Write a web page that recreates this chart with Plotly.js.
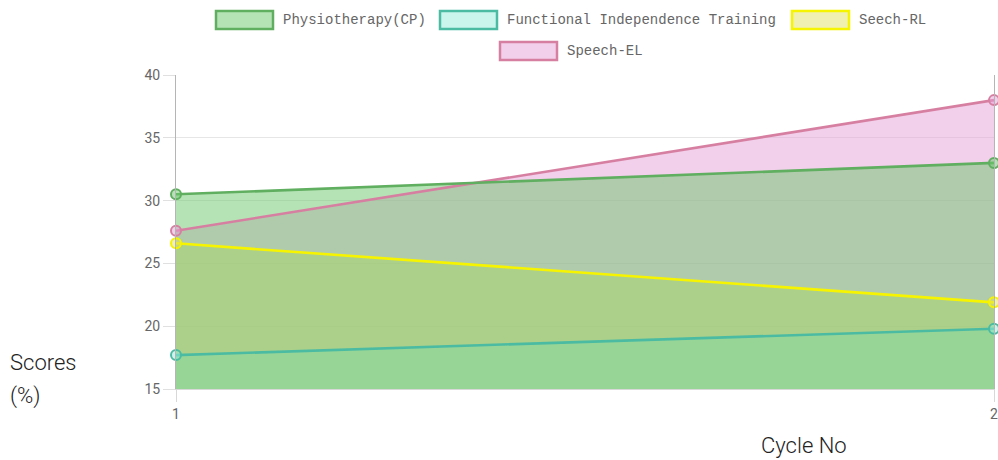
<!DOCTYPE html>
<html>
<head>
<meta charset="utf-8">
<script src="https://cdn.plot.ly/plotly-3.0.1.min.js"></script>
<style>html,body{margin:0;padding:0;background:#fff;}#chart{width:998px;height:460px;}</style>
</head>
<body>
<div id="chart"></div>
<script>
// ---- data ----
const cycles = [1, 2];
const seriesNames = ['Physiotherapy(CP)', 'Functional Independence Training', 'Seech-RL', 'Speech-EL'];
const physio = [30.5, 33.0];
const fit = [17.7, 19.8];
const seechRL = [26.6, 21.9];
const speechEL = [27.6, 38.0];
const yTicks = [15, 20, 25, 30, 35, 40];
const xTicks = [1, 2];

// ---- styles ----
const lineColors = ['#60ae60', '#4bbca2', '#f7f400', '#d77fa1'];
const fillColors = ['rgba(110,200,110,0.5)', 'rgba(150,235,220,0.5)', 'rgba(225,225,100,0.5)', 'rgba(230,160,215,0.5)'];
const seriesValues = [physio, fit, seechRL, speechEL];

// Chart.js-like: fills drawn first (last dataset at bottom), lines on top
const traces = [];
for (let i = seriesValues.length - 1; i >= 0; i--) {
  traces.push({
    x: cycles, y: seriesValues[i], type: 'scatter', mode: 'none',
    fill: 'tozeroy', fillcolor: fillColors[i], showlegend: false, hoverinfo: 'skip'
  });
}
for (let i = seriesValues.length - 1; i >= 0; i--) {
  traces.push({
    x: cycles, y: seriesValues[i], type: 'scatter', mode: 'lines+markers',
    name: seriesNames[i], showlegend: false, cliponaxis: false,
    line: {color: lineColors[i], width: 2.6},
    marker: {size: 10, color: fillColors[i], line: {color: lineColors[i], width: 2}}
  });
}

// ---- custom Chart.js style legend (paper coords computed from pixel layout) ----
const L = 176, R = 4, T = 75, B = 71, W = 998, H = 460;
const pw = W - L - R, ph = H - T - B;
const px = v => (v - L) / pw;
const py = v => (H - B - v) / ph;
const legendItems = [
  {box: 216, text: 282, y: 20},
  {box: 440, text: 506, y: 20},
  {box: 792, text: 858, y: 20},
  {box: 500, text: 566, y: 51}
];
const shapes = [];
const annotations = [];
legendItems.forEach((it, i) => {
  shapes.push({
    type: 'rect', xref: 'paper', yref: 'paper',
    x0: px(it.box), x1: px(it.box + 57), y0: py(it.y - 9), y1: py(it.y + 9),
    fillcolor: fillColors[i], line: {color: lineColors[i], width: 2.5}
  });
  annotations.push({
    xref: 'paper', yref: 'paper', x: px(it.text), y: py(it.y),
    xanchor: 'left', yanchor: 'middle', showarrow: false, borderpad: 0,
    text: seriesNames[i], font: {family: 'Liberation Mono, DejaVu Sans Mono, monospace', size: 14, color: '#666'}
  });
});
// axis titles placed like the reference
const titleFont = {family: 'Roboto', size: 22, color: '#222', weight: 300};
annotations.push({xref: 'paper', yref: 'paper', x: px(9), y: py(362), xanchor: 'left', yanchor: 'middle',
  showarrow: false, borderpad: 0, text: 'Scores', font: titleFont});
annotations.push({xref: 'paper', yref: 'paper', x: px(9), y: py(396), xanchor: 'left', yanchor: 'middle',
  showarrow: false, borderpad: 0, text: '(%)', font: titleFont});
annotations.push({xref: 'paper', yref: 'paper', x: px(804), y: py(445), xanchor: 'center', yanchor: 'middle',
  showarrow: false, borderpad: 0, text: 'Cycle No', font: titleFont});

const layout = {
  width: W, height: H,
  margin: {l: L, r: R, t: T, b: B, pad: 0},
  paper_bgcolor: '#fff', plot_bgcolor: '#fff',
  showlegend: false,
  xaxis: {
    range: [1, 2], tickvals: xTicks, ticktext: xTicks.map(String),
    showgrid: true, gridcolor: '#e6e6e6', zeroline: false,
    showline: true, linecolor: '#d8d8d8', linewidth: 1,
    ticks: 'outside', ticklen: 12, tickcolor: '#d8d8d8',
    ticklabeloverflow: 'allow',
    tickfont: {family: 'Roboto', size: 14, color: '#666'}, fixedrange: true
  },
  yaxis: {
    range: [15, 40], tickvals: yTicks, ticktext: yTicks.map(String),
    showgrid: true, gridcolor: '#e6e6e6', zeroline: false,
    showline: true, linecolor: '#b5b5b5', linewidth: 1, mirror: true,
    ticks: 'outside', ticklen: 12, tickcolor: '#e0e0e0',
    tickfont: {family: 'Roboto', size: 14, color: '#666'}, fixedrange: true
  },
  shapes: shapes,
  annotations: annotations,
  hovermode: false
};

Plotly.newPlot('chart', traces, layout, {displayModeBar: false, staticPlot: true});
</script>
</body>
</html>
